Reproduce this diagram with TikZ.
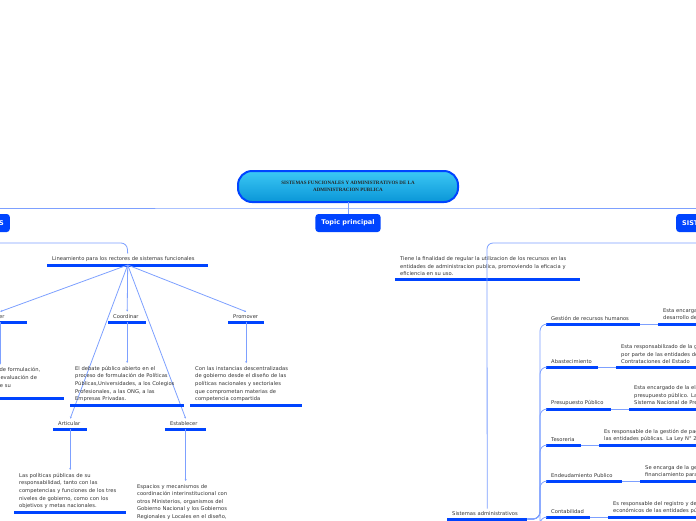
\documentclass[tikz,border=0pt]{standalone}
\usepackage{fontspec}
\usepackage[none]{hyphenat}
\setmainfont{DejaVu Sans}
\newfontfamily\titlefont{Liberation Serif}
\usetikzlibrary{positioning, calc}
\definecolor{mmblue}{RGB}{0,68,255}
\definecolor{mmline}{RGB}{125,160,255}
\definecolor{mmcyan}{RGB}{60,200,245}
\definecolor{mmcyandark}{RGB}{10,150,215}
\tikzstyle{conn} = [draw=mmline, line width=0.8pt]
\tikzstyle{arrow} = [conn, -{Stealth[length=2pt,width=2pt]}]
\tikzstyle{uline} = [draw=mmblue, line width=3pt]
\tikzstyle{topic} = [inner xsep=5pt, inner ysep=3pt, font=\fontsize{5.2}{7.6}\selectfont, text=black!80, align=left]
\tikzstyle{mainbox} = [rectangle, rounded corners=3pt, fill=mmblue, text=white, font=\fontsize{6.5}{8}\selectfont\bfseries, minimum height=18pt, inner xsep=6pt]
\newcommand{\sub}[5]{%
  \node[topic, text width=#4pt-10pt, anchor=south west] (#1) at (#2,#3) {#5};
  \draw[uline] (#1.south west) -- (#1.south east);}
\usetikzlibrary{arrows.meta}
\begin{document}
\begin{tikzpicture}[x=1pt, y=-1pt]
    \useasboundingbox (0,0) rectangle (696,520);
    \clip (0,0) rectangle (696,520);
    % central topic
    \shade[top color=mmcyan, bottom color=mmcyandark, draw=mmblue, line width=2pt, rounded corners=14pt] (238,171) rectangle (458,202);
    \node[font=\titlefont\bfseries\fontsize{5}{7}\selectfont, align=center, text=black!85] (title) at (348,186.5) {SISTEMAS FUNCIONALES Y ADMINISTRATIVOS DE LA\\ADMINISTRACION PUBLICA};
    \coordinate (title_s) at (348,202);
    \coordinate (hub) at (348,208);
    \node[mainbox] (topic) at (348,223) {Topic principal};
    \node[mainbox, anchor=east] (lbox) at (10,223) {SISTEMAS FUNCIONALES};
    \node[mainbox, anchor=west] (rbox) at (676,223) {SISTEMAS ADMINISTRATIVOS};
    \draw[conn] (title_s) -- (topic.north);
    \draw[conn] (lbox.north) |- (hub) -| (rbox.north);

    % sistemas funcionales
    \sub{lin}{47}{265}{161}{\centering Lineamiento para los rectores de sistemas funcionales}
    \draw[conn, rounded corners=6pt] (lbox.south) |- (127,243) -- (lin.north);
    \sub{fort}{-27}{322}{54}{\centering Fortalecer}
    \sub{coord}{108}{322}{38}{\centering Coordinar}
    \sub{prom}{228}{322}{36}{\centering Promover}
    \sub{artic}{53}{429}{34}{\centering Articular}
    \sub{estab}{165}{429}{41}{\centering Establecer}
    \foreach \n in {fort, coord, prom, artic, estab}
        \draw[arrow] (lin.south) -- (\n.north);
    \sub{fortx}{-41}{398}{105}{Los procesos de formulación,\\supervisión y evaluación de\\las políticas de su\\sector.}
    \sub{coordx}{70}{405}{114}{El debate público abierto en el proceso de formulación de Políticas Públicas,Universidades, a los Colegios Profesionales, a las ONG, a las Empresas Privadas.}
    \sub{promx}{190}{405}{112}{Con las instancias descentralizadas de gobierno desde el diseño de las políticas nacionales y sectoriales que comprometan materias de competencia compartida}
    \sub{articx}{14}{512}{112}{Las políticas públicas de su responsabilidad, tanto con las competencias y funciones de los tres niveles de gobierno, como con los objetivos y metas nacionales.}
    \sub{estabx}{132}{538}{108}{Espacios y mecanismos de coordinación interinstitucional con otros Ministerios, organismos del Gobierno Nacional y los Gobiernos Regionales y Locales en el diseño, implementación y evaluación de las políticas públicas de su competencia.}
    \draw[arrow] (fort.south) -- (fortx.north -| fort.south);
    \draw[arrow] (coord.south) -- (coordx.north -| coord.south);
    \draw[arrow] (prom.south) -- (promx.north -| prom.south);
    \draw[arrow] (artic.south) -- (articx.north -| artic.south);
    \draw[arrow] (estab.south) -- (estabx.north -| estab.south);

    % sistemas administrativos
    \sub{fin}{395}{279}{185}{Tiene la finalidad de regular la utilizacion de los recursos en las entidades de administracion publica, promoviendo la eficacia y eficiencia en su uso.}
    \sub{sa}{447}{519}{80}{\centering Sistemas administrativos}
    \draw[conn, rounded corners=6pt] (rbox.south) |- (487,243) -- (sa.north);
    \coordinate (stem) at (540,519);
    \sub{rh}{546}{324}{94}{Gestión de recursos humanos}
    \sub{ab}{546}{367}{52}{Abastecimiento}
    \sub{pp}{546}{409}{65}{Presupuesto Público}
    \sub{te}{546}{445}{35}{Tesoreria}
    \sub{en}{546}{481}{76}{Endeudamiento Publico}
    \sub{co}{546}{517}{44}{Contabilidad}
    \foreach \n in {rh, ab, pp, te, en, co}
        \draw[conn, rounded corners=7pt] (sa.south east) -| (stem |- \n.south west) -- (\n.south west);
    \sub{rhx}{658}{324}{150}{Esta encargado del\\desarrollo de las personas}
    \sub{abx}{616}{367}{150}{Esta responsabilizado de la gestión\\por parte de las entidades del\\Contrataciones del Estado}
    \sub{ppx}{629}{409}{150}{Esta encargado de la elaboración\\presupuesto público. La Ley del\\Sistema Nacional de Presupuesto}
    \sub{tex}{599}{445}{150}{Es responsable de la gestión de pagos\\las entidades públicas. La Ley N° 28693}
    \sub{enx}{640}{481}{150}{Se encarga de la gestión del\\financiamiento para las entidades}
    \sub{cox}{608}{517}{150}{Es responsable del registro y de los\\económicos de las entidades públicas}
    \foreach \a/\b in {rh/rhx, ab/abx, pp/ppx, te/tex, en/enx, co/cox}
        \draw[conn] (\a.south east) -- (\b.south west);
\end{tikzpicture}
\end{document}
